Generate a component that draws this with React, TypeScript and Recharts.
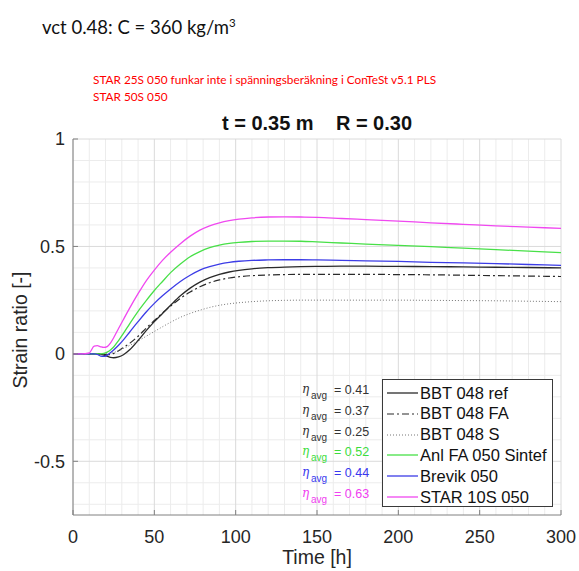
import React from 'react';
import { LineChart, Line, XAxis, YAxis, CartesianGrid, Legend } from 'recharts';

// time axis [h]
const hours = [0, 5, 10, 13, 15, 17, 19, 21, 23, 25, 28, 31, 35, 40, 45, 50, 55, 60, 66, 72, 78, 84, 90, 96, 102, 110, 120, 130, 140, 150, 165, 180, 200, 220, 240, 260, 280, 300];

// strain ratio per mix
const bbtRef = [0, 0, 0, 0, 0, -0.002, -0.006, -0.011, -0.016, -0.018, -0.014, -0.004, 0.02, 0.062, 0.108, 0.15, 0.188, 0.226, 0.27, 0.306, 0.334, 0.355, 0.37, 0.381, 0.389, 0.396, 0.401, 0.404, 0.406, 0.407, 0.408, 0.408, 0.407, 0.406, 0.405, 0.403, 0.402, 0.4];
const bbtFa = [0, 0, 0, 0, 0, 0, -0.002, -0.004, -0.003, 0.002, 0.014, 0.03, 0.05, 0.082, 0.12, 0.155, 0.19, 0.222, 0.258, 0.288, 0.312, 0.331, 0.344, 0.353, 0.359, 0.364, 0.367, 0.369, 0.37, 0.37, 0.37, 0.37, 0.369, 0.368, 0.366, 0.364, 0.362, 0.36];
const bbtS = [0, 0, 0, 0, 0, 0, 0, 0, 0.002, 0.006, 0.015, 0.025, 0.04, 0.06, 0.082, 0.104, 0.126, 0.147, 0.17, 0.188, 0.203, 0.216, 0.226, 0.233, 0.238, 0.243, 0.247, 0.249, 0.25, 0.25, 0.25, 0.25, 0.25, 0.249, 0.248, 0.247, 0.245, 0.243];
const anlFaSintef = [0, 0, 0, 0, 0, 0, 0.002, 0.008, 0.018, 0.032, 0.062, 0.095, 0.142, 0.198, 0.248, 0.295, 0.337, 0.378, 0.418, 0.452, 0.476, 0.494, 0.506, 0.514, 0.519, 0.523, 0.525, 0.525, 0.524, 0.521, 0.516, 0.511, 0.505, 0.499, 0.492, 0.485, 0.478, 0.471];
const brevik = [0, 0, 0, 0, -0.003, -0.01, -0.012, -0.006, 0.005, 0.018, 0.04, 0.065, 0.103, 0.15, 0.195, 0.235, 0.27, 0.302, 0.337, 0.366, 0.39, 0.406, 0.418, 0.426, 0.431, 0.435, 0.437, 0.438, 0.438, 0.437, 0.435, 0.433, 0.43, 0.426, 0.423, 0.42, 0.416, 0.412];
const star10s = [0, 0, 0.004, 0.036, 0.038, 0.033, 0.03, 0.034, 0.05, 0.075, 0.118, 0.16, 0.215, 0.28, 0.34, 0.39, 0.435, 0.473, 0.513, 0.548, 0.576, 0.596, 0.61, 0.62, 0.627, 0.633, 0.637, 0.638, 0.637, 0.635, 0.63, 0.625, 0.618, 0.61, 0.603, 0.596, 0.59, 0.584];

const etaAvg = [0.41, 0.37, 0.25, 0.52, 0.44, 0.63];

const xTicks = [0, 50, 100, 150, 200, 250, 300];
const yTicks = [-0.5, 0, 0.5, 1];
const xMinor = [10, 20, 30, 40, 60, 70, 80, 90, 110, 120, 130, 140, 160, 170, 180, 190, 210, 220, 230, 240, 260, 270, 280, 290];
const yMinor = [-0.7, -0.6, -0.4, -0.3, -0.2, -0.1, 0.1, 0.2, 0.3, 0.4, 0.6, 0.7, 0.8, 0.9];

const series = [
  { key: 'ref', name: 'BBT 048 ref', values: bbtRef, color: '#2a2a2a', text: '#333', dash: undefined as string | undefined, width: 1.3 },
  { key: 'fa', name: 'BBT 048 FA', values: bbtFa, color: '#2a2a2a', text: '#333', dash: '7 3 2 3', width: 1.2 },
  { key: 's', name: 'BBT 048 S', values: bbtS, color: '#777', text: '#333', dash: '1 2', width: 1 },
  { key: 'anl', name: 'Anl FA 050 Sintef', values: anlFaSintef, color: '#48e048', text: '#3cdc3c', dash: undefined, width: 1.3 },
  { key: 'brevik', name: 'Brevik 050', values: brevik, color: '#3c3ce6', text: '#3838ee', dash: undefined, width: 1.3 },
  { key: 'star', name: 'STAR 10S 050', values: star10s, color: '#f048f0', text: '#f040f0', dash: undefined, width: 1.3 },
];

const rows = hours.map((h, i) => {
  const r: any = { h };
  series.forEach(s => { r[s.key] = s.values[i]; });
  return r;
});

const FONT = '"Liberation Sans", Arial, sans-serif';

const renderLegend = () => (
  <div style={{ position: 'relative', width: 253, height: 128, fontFamily: FONT }}>
    {series.map((s, i) => (
      <div key={'eta-' + s.key} style={{ position: 'absolute', left: 0, top: i * 20.8, width: 82, height: 20, color: s.text }}>
        <span style={{ position: 'absolute', left: 2, top: 3, fontSize: 12, lineHeight: '14px', fontStyle: 'italic', fontFamily: '"DejaVu Serif", serif' }}>η</span>
        <span style={{ position: 'absolute', left: 11, top: 11, fontSize: 10, lineHeight: '11px' }}>avg</span>
        <span style={{ position: 'absolute', left: 34, top: 4, fontSize: 12.5, lineHeight: '14px' }}>= {etaAvg[i].toFixed(2)}</span>
      </div>
    ))}
    <div style={{ position: 'absolute', left: 82, top: 0, width: 171, height: 128, border: '1px solid #3a3a3a', background: '#fff', boxSizing: 'border-box' }}>
      {series.map((s, i) => (
        <div key={'lg-' + s.key} style={{ position: 'absolute', left: 0, top: 3 + i * 20.8, height: 20, display: 'flex', alignItems: 'center', whiteSpace: 'nowrap' }}>
          <svg width={37} height={20}>
            <line x1={4} x2={35} y1={10} y2={10} stroke={s.color} strokeWidth={s.width} strokeDasharray={s.dash} />
          </svg>
          <span style={{ fontSize: 16.5, color: '#111' }}>{s.name}</span>
        </div>
      ))}
    </div>
  </div>
);

export default function App() {
  return (
    <div style={{ position: 'absolute', left: 0, top: 0, width: 579, height: 571, background: '#fff', overflow: 'hidden' }}>
      <div style={{ position: 'absolute', left: 42, top: 11, fontFamily: 'Lato, "Open Sans", sans-serif', fontSize: 18.5, lineHeight: '24px', color: '#111', whiteSpace: 'nowrap' }}>
        vct 0.48: C = 360 kg/m<sup style={{ fontSize: 11.5 }}>3</sup>
      </div>
      <div style={{ position: 'absolute', left: 93, top: 71, fontFamily: 'Lato, "Open Sans", sans-serif', fontSize: 11.8, lineHeight: '17px', color: '#ff0000', whiteSpace: 'nowrap' }}>
        STAR 25S 050 funkar inte i spänningsberäkning i ConTeSt v5.1 PLS<br />STAR 50S 050
      </div>
      <div style={{ position: 'absolute', left: 73, width: 488, top: 112, textAlign: 'center', fontFamily: FONT, fontWeight: 'bold', fontSize: 20, color: '#111', whiteSpace: 'pre' }}>
        {'t = 0.35 m    R = 0.30'}
      </div>
      <LineChart width={579} height={571} data={rows} margin={{ top: 139, right: 18, bottom: 0, left: 0 }} style={{ position: 'absolute', left: 0, top: 0 }}>
        <CartesianGrid stroke="#ececec" verticalValues={xMinor} horizontalValues={yMinor} />
        <CartesianGrid stroke="#dadada" verticalValues={xTicks} horizontalValues={yTicks} />
        <XAxis dataKey="h" type="number" domain={[0, 300]} ticks={xTicks} height={56} tickSize={-5} tickMargin={20}
          stroke="#808080" tick={{ fill: '#262626', fontSize: 18, fontFamily: FONT }} interval={0} />
        <YAxis type="number" domain={[-0.75, 1]} ticks={yTicks} width={73} tickSize={-5} tickMargin={13}
          stroke="#808080" tick={{ fill: '#262626', fontSize: 18, fontFamily: FONT }} interval={0} />
        {series.map(s => (
          <Line key={s.key} type="monotone" dataKey={s.key} name={s.name} stroke={s.color} strokeWidth={s.width}
            strokeDasharray={s.dash} dot={false} activeDot={false} isAnimationActive={false} />
        ))}
        <Legend layout="vertical" align="center" verticalAlign="middle" content={renderLegend}
          wrapperStyle={{ left: 300, top: 379, width: 253, height: 128 }} />
      </LineChart>
      <div style={{ position: 'absolute', left: 73, width: 488, top: 546, textAlign: 'center', fontFamily: FONT, fontSize: 19.5, color: '#262626' }}>
        Time [h]
      </div>
      <div style={{ position: 'absolute', left: 20, top: 330, transform: 'translate(-50%, -50%) rotate(-90deg)', fontFamily: FONT, fontSize: 19.5, color: '#262626', whiteSpace: 'nowrap' }}>
        Strain ratio [-]
      </div>
    </div>
  );
}
